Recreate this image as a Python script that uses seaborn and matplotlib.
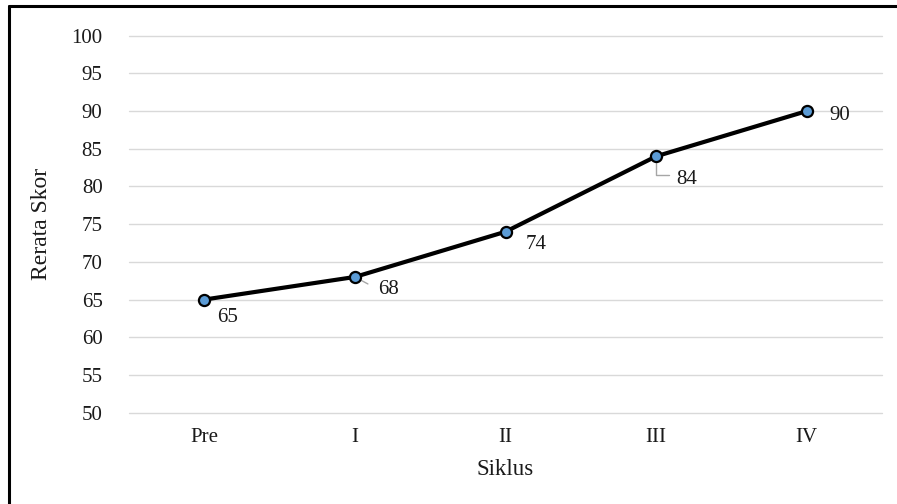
import matplotlib
matplotlib.use("Agg")
import matplotlib.pyplot as plt
import seaborn as sns
import pandas as pd
from matplotlib.lines import Line2D

# Cycle means
siklus = ["Pre", "I", "II", "III", "IV"]
rerata = [65, 68, 74, 84, 90]
y_ticks = [50, 55, 60, 65, 70, 75, 80, 85, 90, 95, 100]

df = pd.DataFrame({"Siklus": siklus, "Rerata Skor": rerata})

sns.set_theme(style="white")
plt.rcParams["font.family"] = ["Liberation Serif", "DejaVu Serif"]

TXT = "#1a1a1a"

fig = plt.figure(figsize=(8.97, 5.04), dpi=100)
ax = fig.add_axes([0.1438, 0.1812, 0.8395, 0.748])

for yt in y_ticks:
    ax.axhline(yt, color="#d9d9d9", lw=1.0, zorder=0, clip_on=False)

sns.lineplot(data=df, x="Siklus", y="Rerata Skor", sort=False, ax=ax,
             color="black", lw=3.0, marker="o", markersize=8,
             markerfacecolor="#5b9bd5", markeredgecolor="black",
             markeredgewidth=1.6, zorder=3)

ax.set_xlim(-0.5, len(siklus) - 0.5)
ax.set_ylim(50, 100)
ax.set_yticks(y_ticks)
ax.set_yticklabels([str(v) for v in y_ticks])
for s in ax.spines.values():
    s.set_visible(False)
ax.tick_params(axis="y", length=0, pad=19, labelsize=15, colors=TXT)
ax.tick_params(axis="x", length=0, pad=11, labelsize=15, colors=TXT)
ax.set_xlabel("Siklus", fontsize=16.5, labelpad=9, color=TXT)
ax.set_ylabel("Rerata Skor", fontsize=17, labelpad=14, color=TXT)

# Data labels: text offset (dx, dy) in pixels
label_off = [(23, -18), (34, -13), (31, -13), (31, -23), (33, -4)]
for i, (v, (dx, dy)) in enumerate(zip(rerata, label_off)):
    ax.annotate(str(v), xy=(i, v), xytext=(dx, dy), textcoords="offset pixels",
                ha="center", va="center", fontsize=15, color=TXT, zorder=4)

# Leader lines for the displaced labels
leader = dict(arrowstyle="-", color="#a6a6a6", lw=1.0, shrinkA=0)
ax.annotate("", xy=(1, rerata[1]), xytext=(13, -7), textcoords="offset pixels",
            arrowprops=dict(leader, shrinkB=3), zorder=2)
ax.annotate("", xy=(3, rerata[3]), xytext=(13, -19), textcoords="offset pixels",
            arrowprops=dict(leader, shrinkB=5,
                            connectionstyle="angle,angleA=0,angleB=90,rad=0"),
            zorder=2)

# Frame lines along the top and left edges of the figure
fig.add_artist(Line2D([0.010, 1.0], [0.989, 0.989], transform=fig.transFigure,
                      color="black", lw=2.2))
fig.add_artist(Line2D([0.010, 0.010], [0.0, 0.989], transform=fig.transFigure,
                      color="black", lw=2.2))

fig.savefig("out.png", dpi=100)
